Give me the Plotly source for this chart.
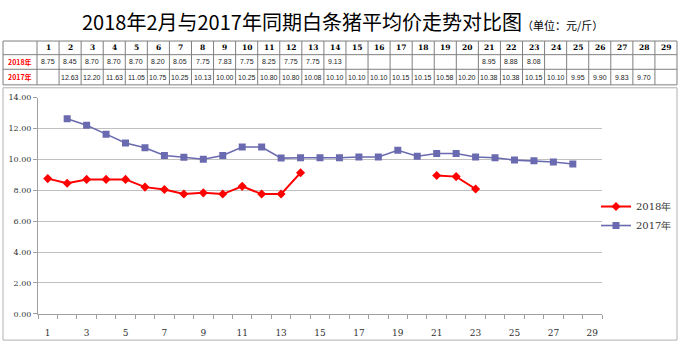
import plotly.graph_objects as go

days = list(range(1, 30))
p2018 = [8.75, 8.45, 8.70, 8.70, 8.70, 8.20, 8.05, 7.75, 7.83, 7.75, 8.25, 7.75, 7.75, 9.13,
         None, None, None, None, None, None, 8.95, 8.88, 8.08, None, None, None, None, None, None]
p2017 = [None, 12.63, 12.20, 11.63, 11.05, 10.75, 10.25, 10.13, 10.00, 10.25, 10.80, 10.80, 10.08, 10.10,
         10.10, 10.10, 10.15, 10.15, 10.58, 10.20, 10.38, 10.38, 10.15, 10.10, 9.95, 9.90, 9.83, 9.70, None]
row_labels = ["2018年", "2017年"]
tick_labels = [str(d) for d in range(1, 30, 2)]

W, H = 680, 349
def px_x(x):
    return x / W
def px_y(y):
    return 1 - y / H

fig = go.Figure()

fig.add_trace(go.Scatter(
    x=days, y=p2018, name=row_labels[0], mode="lines+markers", connectgaps=False,
    line=dict(color="#FF0000", width=2),
    marker=dict(symbol="diamond", size=7, color="#FF0000"),
))
fig.add_trace(go.Scatter(
    x=days, y=p2017, name=row_labels[1], mode="lines+markers", connectgaps=False,
    line=dict(color="#6A6AB0", width=1.6),
    marker=dict(symbol="square", size=7, color="#6A6AB0"),
))

# ---- table drawn as grid shapes + text annotations ----
tx0, tx1 = 3, 677
first_w = 34
col_w = (tx1 - tx0 - first_w) / 29
row_edges = [38, 52, 67, 83]
shapes = []
annotations = []
grid = dict(color="#7F7F7F", width=1)
for y in row_edges:
    shapes.append(dict(type="line", xref="paper", yref="paper",
                       x0=px_x(tx0), x1=px_x(tx1), y0=px_y(y), y1=px_y(y), line=grid))
xs = [tx0, tx0 + first_w] + [tx0 + first_w + col_w * k for k in range(1, 30)]
for x in xs:
    shapes.append(dict(type="line", xref="paper", yref="paper",
                       x0=px_x(x), x1=px_x(x), y0=px_y(row_edges[0]), y1=px_y(row_edges[-1]), line=grid))

def cell_center(col, row):
    if col == 0:
        cx = tx0 + first_w / 2
    else:
        cx = tx0 + first_w + col_w * (col - 0.5)
    cy = (row_edges[row] + row_edges[row + 1]) / 2
    return px_x(cx), px_y(cy)

def add_text(col, row, text, font):
    x, y = cell_center(col, row)
    annotations.append(dict(x=x, y=y, xref="paper", yref="paper", text=text, showarrow=False,
                            xanchor="center", yanchor="middle", font=font))

hfont = dict(family="DejaVu Serif", size=7.5, color="black")
vfont = dict(family="Liberation Sans Narrow, Liberation Sans", size=7, color="#222")
lfont = dict(family="Noto Sans CJK SC", size=7, color="#FF0000")
for d in days:
    add_text(d, 0, f"<b>{d}</b>", hfont)
for r, (lab, series) in enumerate(zip(row_labels, [p2018, p2017])):
    add_text(0, r + 1, f"<b>{lab}</b>", lfont)
    for d, v in zip(days, series):
        if v is not None:
            add_text(d, r + 1, f"{v:.2f}", vfont)

# title
annotations.append(dict(
    x=px_x(342), y=px_y(18), xref="paper", yref="paper", xanchor="center", yanchor="middle",
    showarrow=False,
    text="2018年2月与2017年同期白条猪平均价走势对比图<span style='font-size:11px'>（单位：元/斤）</span>",
    font=dict(family="Noto Sans CJK SC", size=20, color="black"),
))
# chart border
shapes.append(dict(type="rect", xref="paper", yref="paper",
                   x0=px_x(3), x1=px_x(677), y0=px_y(345), y1=px_y(86),
                   line=dict(color="#B0B0B0", width=1)))

fig.update_layout(
    width=W, height=H, margin=dict(l=0, r=0, t=0, b=0),
    paper_bgcolor="white", plot_bgcolor="white",
    showlegend=True,
    legend=dict(x=px_x(596), y=px_y(193), xanchor="left", yanchor="top",
                font=dict(family="DejaVu Serif", size=10, color="#333"),
                bgcolor="rgba(0,0,0,0)", itemwidth=30, tracegroupgap=2),
    xaxis=dict(domain=[px_x(38), px_x(602)], range=[0.5, 29.5],
               tickvals=list(range(1, 30, 2)), ticktext=tick_labels,
               ticks="", showgrid=False, zeroline=False,
               showline=True, linecolor="#A0A0A0", linewidth=1,
               ticklabelstandoff=10,
               tickfont=dict(family="DejaVu Serif", size=9, color="#333"),
               minor=dict(tickvals=[i + 0.5 for i in range(0, 30)], ticks="outside",
                          ticklen=4, tickcolor="#A0A0A0", showgrid=False)),
    yaxis=dict(domain=[px_y(318), px_y(96)], range=[0, 14],
               tickvals=[0, 2, 4, 6, 8, 10, 12, 14], tickformat=".2f",
               ticks="outside", ticklen=4, tickcolor="#A0A0A0",
               showgrid=True, gridcolor="#C0C0C0", gridwidth=1, zeroline=False,
               showline=True, linecolor="#A0A0A0", linewidth=1,
               tickfont=dict(family="DejaVu Serif", size=8, color="#333")),
    annotations=annotations,
    shapes=shapes,
)

fig.write_html("out.html")
